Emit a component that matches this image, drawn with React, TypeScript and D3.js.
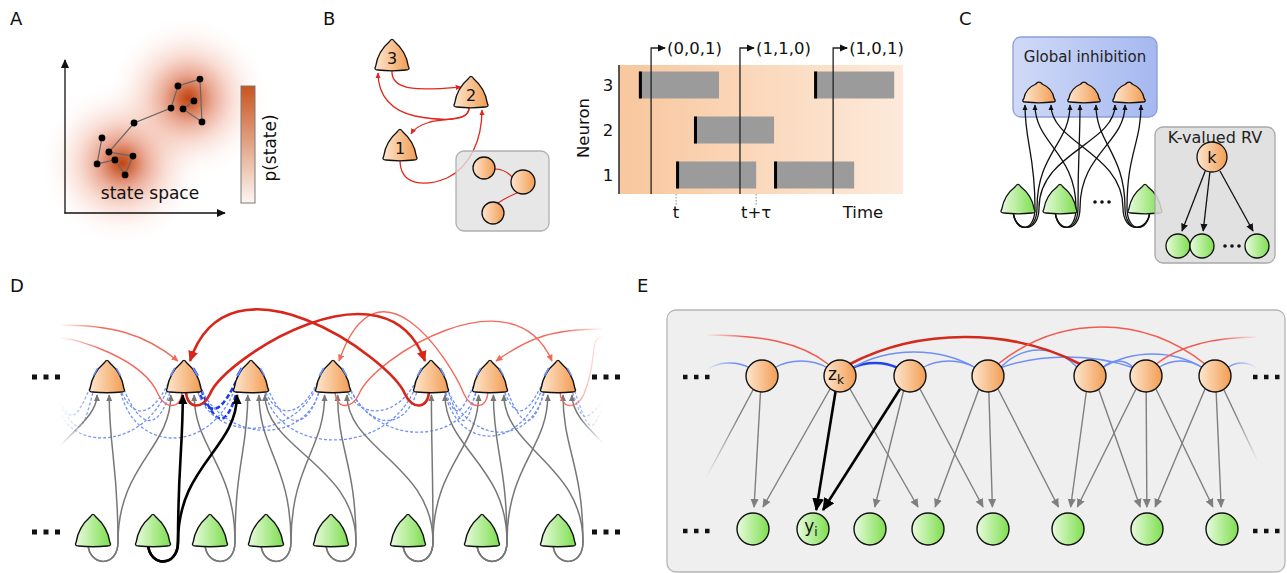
import React from "react";
import * as d3 from "d3";

const FONT = "'DejaVu Sans', Verdana, sans-serif";

// ---------- Panel A: sampling walk over a bimodal state space (axis units 0-100)
const walkX = [23.4, 20.3, 31.6, 38.0, 43.0, 27.8, 43.7, 67.1, 71.5, 85.4, 86.7, 74.7, 81.6];
const walkY = [49.7, 32.5, 35.1, 25.2, 37.7, 40.4, 59.6, 69.5, 84.1, 88.7, 60.3, 68.9, 74.2];
const modeX = [36, 78];
const modeY = [33, 76];

// ---------- Panel B: three neurons, refractory activity (time units 0-100)
const neuronNames = ["1", "2", "3"];
const spikeStarts1 = [20.1, 54.6];
const spikeStarts2 = [26.4];
const spikeStarts3 = [7.0, 68.7];
const tau = 28.2;
const readTimes = [11.3, 42.6, 75.4];
const markTime = 20.1;
const bNetX = [400, 471, 392];
const bNetTop = [127, 74, 37];
const bSubX = [484, 523, 493];
const bSubY = [168, 182, 213];
const bSubR = [11, 12, 11];

// ---------- Panel C: WTA circuit
const cTopX = [1039, 1084, 1129];
const cBotX = [1018, 1060, 1145];
const cRiserDx = [19, 18, -20];
const cArrowDx = [-14, -4, 12];
const cRVX = [1178, 1202, 1257];

// ---------- Panel D: network of spiking neurons
const dOrangeX = [107, 184, 251, 333, 431, 490, 558];
const dGreenX = [93, 153, 210, 266, 331, 408, 482, 558];
const dFeedSrc = [0, 0, 1, 1, 2, 2, 3, 3, 4, 4, 5, 5, 5, 6, 6, 6, 7, 7];
const dFeedDst = [0, 1, 1, 2, 1, 2, 2, 3, 2, 3, 3, 4, 5, 4, 5, 6, 5, 6];
const dBlueSrc = [-1, 0, 0, 1, 1, 2, 2, 3, 3, 4, 4, 5, 5, 6, 6, 7, 0, 2, 4, 3, 5, -1, 1, 6];
const dBlueDst = [0, -1, 1, 0, 2, 1, 3, 2, 4, 3, 5, 4, 6, 5, 7, 6, 2, 4, 6, 1, 3, 1, 3, 4];
const dBlueDip = [24, 34, 22, 32, 20, 30, 22, 32, 22, 32, 22, 32, 22, 32, 24, 34, 50, 52, 48, 42, 44, 46, 40, 44];
const dRedSrc = [-1, 1, 5, 3, 7, 6];
const dRedDst = [1, -1, 3, 6, 5, 7];
const dRedLevel = [325, 338, 322, 330, 329, 337];
const dStrongSrc = [1, 4];
const dStrongDst = [4, 1];
const dStrongTop = [324, 320];

// ---------- Panel E: equivalent graphical model
const eLatentX = [762, 840, 910, 988, 1090, 1146, 1215];
const eObsX = [753, 813, 870, 928, 993, 1068, 1147, 1222];
const eEdgeSrc = [0, 1, 1, 1, 2, 2, 2, 3, 3, 3, 4, 4, 5, 5, 5, 6, 6];
const eEdgeDst = [0, 0, 1, 3, 1, 2, 4, 3, 4, 5, 5, 6, 5, 6, 7, 6, 7];
const eBlueSrc = [-1, 0, 1, 2, 1, 3, 3, 4, 4, 5, 6];
const eBlueDst = [0, 1, 2, 3, 3, 4, 5, 5, 6, 6, 7];
const eBlueTop = [363, 361, 363, 361, 352, 350, 357, 361, 354, 361, 363];
const eRedSrc = [-1, 1, 3, 5];
const eRedDst = [1, 4, 6, 7];
const eRedTop = [335, 337, 327, 337];

const clamp = (v: number, lo: number, hi: number) => Math.max(lo, Math.min(hi, v));

// rounded triangle with gently convex sides
function tri(cx: number, top: number, w: number, h: number) {
  const pts = [
    [cx, top],
    [cx + w / 2, top + h],
    [cx - w / 2, top + h],
  ];
  const rr = [5.5, 4.5, 4.5];
  const bulge = [w * 0.07, 0.8, w * 0.07];
  const toward = (P: number[], Q: number[], d: number) => {
    const dx = Q[0] - P[0], dy = Q[1] - P[1], L = Math.hypot(dx, dy);
    return [P[0] + (dx * d) / L, P[1] + (dy * d) / L];
  };
  const p = d3.path();
  for (let i = 0; i < 3; i++) {
    const P = pts[i], Q = pts[(i + 1) % 3], N = pts[(i + 2) % 3];
    const s = toward(P, Q, rr[i]);
    const e = toward(Q, P, rr[(i + 1) % 3]);
    const dx = Q[0] - P[0], dy = Q[1] - P[1], L = Math.hypot(dx, dy);
    const nx = dy / L, ny = -dx / L;
    const mx = (s[0] + e[0]) / 2 + nx * bulge[i] * 2;
    const my = (s[1] + e[1]) / 2 + ny * bulge[i] * 2;
    if (i === 0) p.moveTo(s[0], s[1]);
    p.quadraticCurveTo(mx, my, e[0], e[1]);
    const s2 = toward(Q, N, rr[(i + 1) % 3]);
    p.quadraticCurveTo(Q[0], Q[1], s2[0], s2[1]);
  }
  p.closePath();
  return p.toString();
}

function feedPath(gx: number, gb: number, rx: number, tx: number, tb: number) {
  const s = rx > gx ? 1 : -1;
  const p = d3.path();
  p.moveTo(gx - s * 5, gb - 2);
  p.bezierCurveTo(gx - s * 4, gb + 21, rx, gb + 22, rx, gb - 4);
  const span = gb - tb;
  p.bezierCurveTo(rx, gb - 4 - span * 0.5, tx, tb + 3 + span * 0.35, tx, tb + 3);
  return p.toString();
}

const D_OFF_L = 60, D_OFF_R = 603;
const dX = (i: number) => (i < 0 ? D_OFF_L : i >= dOrangeX.length ? D_OFF_R : dOrangeX[i]);
const dIsOff = (i: number) => i < 0 || i >= dOrangeX.length;

function inhPath(si: number, ti: number, lvl: number) {
  const sx = dX(si), tx = dX(ti);
  const dir = tx > sx ? 1 : -1;
  const p = d3.path();
  if (dIsOff(si)) {
    p.moveTo(sx, lvl);
    p.bezierCurveTo(sx + dir * 50, lvl, tx - dir * 40, lvl + 8, tx - dir * 6, 361);
    return p.toString();
  }
  p.moveTo(sx + dir * 2, 390);
  p.bezierCurveTo(sx + dir * 2, 410, sx + dir * 19, 410, sx + dir * 26, 394);
  const c1x = sx + dir * 41, c1y = 358;
  if (dIsOff(ti)) {
    p.bezierCurveTo(c1x, c1y, tx - dir * 15, lvl, tx, lvl);
    return p.toString();
  }
  const y3 = 361;
  const c2y = (8 * lvl - 394 - 3 * c1y - y3) / 3;
  p.bezierCurveTo(c1x, c1y, tx - dir * 45, c2y, tx - dir * 6, y3);
  return p.toString();
}

function bluePath(si: number, ti: number, dip: number) {
  const sx = dX(si), tx = dX(ti);
  const dir = tx > sx ? 1 : -1;
  const x0 = dIsOff(si) ? sx : sx + dir * 13;
  const y0 = dIsOff(si) ? 392 + dip * 0.4 : 388;
  const x3 = dIsOff(ti) ? tx : tx - dir * 11;
  const y3 = dIsOff(ti) ? 392 + dip * 0.4 : 373;
  const p = d3.path();
  p.moveTo(x0, y0);
  p.bezierCurveTo(x0 + dir * 12, 392 + dip * 1.3, x3 - dir * 20, 392 + dip * 1.3, x3, y3);
  return p.toString();
}

function arcE(x0: number, y0: number, x1: number, y1: number, top: number) {
  const c = (8 * top - y0 - y1) / 6;
  const p = d3.path();
  p.moveTo(x0, y0);
  p.bezierCurveTo(x0 + (x1 - x0) * 0.3, c, x1 - (x1 - x0) * 0.3, c, x1, y1);
  return p.toString();
}

const Marker = ({ id, color, size }: { id: string; color: string; size: number }) => (
  <marker id={id} viewBox="0 0 10 10" refX={9} refY={5} markerWidth={size} markerHeight={size}
    markerUnits="userSpaceOnUse" orient="auto">
    <path d="M0,0.5 L10,5 L0,9.5 z" fill={color} />
  </marker>
);

const Dots = ({ x, y, s, gap }: { x: number; y: number; s: number; gap: number }) => (
  <g fill="#111">
    {[0, 1, 2].map((i) => (
      <rect key={i} x={x + i * gap} y={y - s / 2} width={s} height={s} />
    ))}
  </g>
);

export default function App() {
  // Panel A
  const ax = d3.scaleLinear().domain([0, 100]).range([65, 223]);
  const ay = d3.scaleLinear().domain([0, 100]).range([213, 62]);
  const walkPts: [number, number][] = walkX.map((x, i) => [ax(x), ay(walkY[i])]);
  const walk = d3.line()(walkPts) || "";

  // Panel B
  const tScale = d3.scaleLinear().domain([0, 100]).range([619, 903]);
  const rowScale = d3.scalePoint<string>().domain(["3", "2", "1"]).range([85, 175]);
  const starts = [spikeStarts1, spikeStarts2, spikeStarts3];
  const readLabels = readTimes.map(
    (t) => "(" + starts.map((s) => (s.some((a) => t >= a && t < a + tau) ? 1 : 0)).join(",") + ")"
  );
  const [x1, x2, x3] = bNetX;
  const [t1, t2, t3] = bNetTop;
  const th = 33;
  const bEdges: string[] = [];
  {
    let p = d3.path();
    p.moveTo(x3, t3 + th);
    p.bezierCurveTo(x3 - 2, t3 + th + 23, x3 + 33, t3 + th + 20, x2 - 10, t2 + 13);
    bEdges.push(p.toString());
    p = d3.path();
    p.moveTo(x2 - 2, t2 + th);
    p.bezierCurveTo(x2 - 1, t2 + th + 15, x2 - 30, t2 + th + 14, x2 - 56, t2 + th + 9);
    p.bezierCurveTo(x2 - 79, t2 + th + 4, x3 - 14, t3 + th + 26, x3 - 14, t3 + th + 3);
    bEdges.push(p.toString());
    p = d3.path();
    p.moveTo(x2 - 2, t2 + th);
    p.bezierCurveTo(x2 - 1, t2 + th + 15, x2 - 26, t2 + th + 11, x2 - 41, t2 + th + 15);
    p.bezierCurveTo(x2 - 51, t2 + th + 18, x1 + 14, t1 + 2, x1 + 11, t1 + 7);
    bEdges.push(p.toString());
  }
  const bEdge12 = (() => {
    const p = d3.path();
    p.moveTo(x1, t1 + th);
    p.bezierCurveTo(x1, t1 + th + 26, x1 + 25, t1 + th + 27, x1 + 47, t1 + th + 18);
    p.bezierCurveTo(x1 + 70, t1 + th + 7, x2 + 11, t2 + th + 33, x2 + 11, t2 + th + 3);
    return p.toString();
  })();

  // Panel D
  const D_BASE = 392, D_TOP = 358, D_GTOP = 512, D_GBASE = 546, TW = 38, TH = 34;
  const feeds = dFeedSrc.map((g, k) => {
    const o = dFeedDst[k];
    const gx = dGreenX[g], ox = dOrangeX[o];
    const rx = gx + 25;
    const tx = ox + clamp((rx - ox) * 0.2, -14, 14);
    return { d: feedPath(gx, D_GBASE, rx, tx, D_BASE), bold: g === 1 };
  });
  const blues = dBlueSrc.map((s, k) => {
    const t = dBlueDst[k];
    const thick = (s === 1 && t === 2) || (s === 2 && t === 1);
    const off = dIsOff(s) ? (s < 0 ? "L" : "R") : dIsOff(t) ? (t < 0 ? "L" : "R") : "";
    const dir = dX(t) > dX(s) ? 1 : -1;
    return { d: bluePath(s, t, dBlueDip[k]), thick, off, t, dir };
  });
  const terminals: { x: number; y: number; dx: number; dy: number; thick: boolean }[] = [];
  blues.forEach((b) => {
    if (dIsOff(b.t)) return;
    const tx = dX(b.t);
    const side = -b.dir;
    const ux = (side * 19) / 38.95, uy = 34 / 38.95;
    const cx = tx + side * 11.5, cy = 372;
    terminals.push({ x: cx, y: cy, dx: ux * 4.5, dy: uy * 4.5, thick: b.thick });
  });

  // Panel E
  const E_OY = 376, E_GY = 529, ER = 16;
  const eOffL = 706, eOffR = 1258;
  const eX = (i: number) => (i < 0 ? eOffL : i >= eLatentX.length ? eOffR : eLatentX[i]);

  return (
    <svg width={1287} height={573} style={{ position: "absolute", left: 0, top: 0, background: "#fff" }}
      fontFamily={FONT}>
      <defs>
        <Marker id="mA" color="#111" size={9} />
        <Marker id="mRedB" color="#e3261b" size={6} />
        <Marker id="mBlk" color="#111" size={8} />
        <Marker id="mBlkC" color="#111" size={6} />
        <Marker id="mBlkK" color="#111" size={8} />
        <Marker id="mGrayD" color="#777" size={7} />
        <Marker id="mBlkD" color="#000" size={10} />
        <Marker id="mRedD" color="#f26a5c" size={7} />
        <Marker id="mRedDk" color="#d8261a" size={11} />
        <Marker id="mGrayE" color="#7f7f7f" size={9} />
        <Marker id="mBlkE" color="#000" size={13} />
        <radialGradient id="gBlob" cx="0.5" cy="0.5" r="0.5">
          <stop offset="0" stopColor="rgb(192,68,20)" stopOpacity={1} />
          <stop offset="0.1" stopColor="rgb(200,80,32)" stopOpacity={0.9} />
          <stop offset="0.3" stopColor="rgb(218,105,70)" stopOpacity={0.58} />
          <stop offset="0.55" stopColor="rgb(234,145,115)" stopOpacity={0.3} />
          <stop offset="0.8" stopColor="rgb(244,185,165)" stopOpacity={0.1} />
          <stop offset="1" stopColor="rgb(250,220,210)" stopOpacity={0} />
        </radialGradient>
        <linearGradient id="gBar" x1="0" y1="0" x2="0" y2="1">
          <stop offset="0" stopColor="#c9541e" />
          <stop offset="1" stopColor="#fdf6f2" />
        </linearGradient>
        <linearGradient id="gO" x1="0" y1="0" x2="1" y2="0">
          <stop offset="0" stopColor="#fde6cf" />
          <stop offset="1" stopColor="#f39d52" />
        </linearGradient>
        <linearGradient id="gG" x1="0" y1="0" x2="1" y2="0">
          <stop offset="0" stopColor="#e8fbde" />
          <stop offset="1" stopColor="#7ede4f" />
        </linearGradient>
        <linearGradient id="gTL" x1="0" y1="0" x2="1" y2="0">
          <stop offset="0" stopColor="#f8c79d" />
          <stop offset="1" stopColor="#fdeadb" />
        </linearGradient>
        <linearGradient id="gBlue" x1="0" y1="0" x2="1" y2="0">
          <stop offset="0" stopColor="#d0daf7" />
          <stop offset="1" stopColor="#a5b8f0" />
        </linearGradient>
        {[
          ["fRedL", "#f26a5c", D_OFF_L, D_OFF_L + 40],
          ["fRedR", "#f26a5c", D_OFF_R, D_OFF_R - 40],
          ["fBlueL", "#7191f3", D_OFF_L, D_OFF_L + 35],
          ["fBlueR", "#7191f3", D_OFF_R, D_OFF_R - 35],
          ["fRedEL", "#f25a4f", eOffL, eOffL + 40],
          ["fRedER", "#f25a4f", eOffR, eOffR - 40],
          ["fBlueEL", "#6f8ff6", eOffL, eOffL + 30],
          ["fBlueER", "#6f8ff6", eOffR, eOffR - 30],
        ].map(([id, c, a, b]) => (
          <linearGradient key={id as string} id={id as string} gradientUnits="userSpaceOnUse"
            x1={a as number} y1={0} x2={b as number} y2={0}>
            <stop offset="0" stopColor={c as string} stopOpacity={0} />
            <stop offset="1" stopColor={c as string} stopOpacity={1} />
          </linearGradient>
        ))}
        <linearGradient id="fGrayDL" gradientUnits="userSpaceOnUse" x1={60} y1={446} x2={88} y2={418}>
          <stop offset="0" stopColor="#777" stopOpacity={0} />
          <stop offset="1" stopColor="#777" stopOpacity={1} />
        </linearGradient>
        <linearGradient id="fGrayDR" gradientUnits="userSpaceOnUse" x1={603} y1={443} x2={580} y2={418}>
          <stop offset="0" stopColor="#777" stopOpacity={0} />
          <stop offset="1" stopColor="#777" stopOpacity={1} />
        </linearGradient>
        <linearGradient id="fGrayEL" gradientUnits="userSpaceOnUse" x1={706} y1={478} x2={740} y2={420}>
          <stop offset="0" stopColor="#7f7f7f" stopOpacity={0} />
          <stop offset="1" stopColor="#7f7f7f" stopOpacity={1} />
        </linearGradient>
        <linearGradient id="fGrayER" gradientUnits="userSpaceOnUse" x1={1258} y1={462} x2={1235} y2={415}>
          <stop offset="0" stopColor="#7f7f7f" stopOpacity={0} />
          <stop offset="1" stopColor="#7f7f7f" stopOpacity={1} />
        </linearGradient>
      </defs>

      {/* ================= Panel letters ================= */}
      <g fontSize={18} fill="#111">
        <text x={10} y={25}>A</text>
        <text x={323} y={25}>B</text>
        <text x={959} y={25}>C</text>
        <text x={10} y={292}>D</text>
        <text x={637} y={292}>E</text>
      </g>

      {/* ================= Panel A ================= */}
      <g>
        {modeX.map((m, i) => (
          <circle key={i} cx={ax(m)} cy={ay(modeY[i])} r={80} fill="url(#gBlob)" />
        ))}
        <line x1={65} y1={213.5} x2={65} y2={60} stroke="#111" strokeWidth={1.3} markerEnd="url(#mA)" />
        <line x1={64.4} y1={213} x2={225} y2={213} stroke="#111" strokeWidth={1.3} markerEnd="url(#mA)" />
        <path d={walk} fill="none" stroke="#666" strokeWidth={1.2} />
        {walkPts.map((p, i) => (
          <circle key={i} cx={p[0]} cy={p[1]} r={3.4} fill="#000" />
        ))}
        <text x={150} y={199} fontSize={17} textAnchor="middle" fill="#111">state space</text>
        <rect x={241} y={86} width={14} height={117} fill="url(#gBar)" stroke="#7a7a7a" strokeWidth={1} />
        <text transform="translate(276,148) rotate(-90)" fontSize={17} textAnchor="middle" fill="#111">p(state)</text>
      </g>

      {/* ================= Panel B: network ================= */}
      <g>
        {bEdges.map((d, i) => (
          <path key={i} d={d} fill="none" stroke="#e3261b" strokeWidth={1.3} markerEnd="url(#mRedB)" />
        ))}
        <path d={bEdge12} fill="none" stroke="#e3261b" strokeWidth={1.3} markerEnd="url(#mRedB)" />
        <rect x={456} y={151} width={93} height={80} rx={8} fill="#e2e2e2" fillOpacity={0.82} stroke="#b0b0b0" strokeWidth={1.3} />
        <path d={`M${bSubX[0] + 11},${bSubY[0] + 1} Q${bSubX[0] + 21},${bSubY[0] + 1} ${bSubX[1] - 11},${bSubY[1] - 5}`}
          fill="none" stroke="#e3261b" strokeWidth={1.2} />
        <path d={`M${bSubX[1] - 6},${bSubY[1] + 11} Q${bSubX[1] - 18},${bSubY[1] + 16} ${bSubX[2] + 5},${bSubY[2] - 10}`}
          fill="none" stroke="#e3261b" strokeWidth={1.2} />
        {bSubX.map((x, i) => (
          <circle key={i} cx={x} cy={bSubY[i]} r={bSubR[i]} fill="url(#gO)" stroke="#111" strokeWidth={1.3} />
        ))}
        {bNetX.map((x, i) => (
          <g key={i}>
            <path d={tri(x, bNetTop[i], 37, th)} fill="url(#gO)" stroke="#111" strokeWidth={1.3} />
            <text x={x} y={bNetTop[i] + 27} fontSize={16} textAnchor="middle" fill="#111">{neuronNames[i]}</text>
          </g>
        ))}
      </g>

      {/* ================= Panel B: activity ================= */}
      <g>
        <rect x={619} y={65} width={284} height={129} fill="url(#gTL)" />
        {starts.map((s, n) =>
          s.map((a, k) => (
            <g key={n + "-" + k}>
              <rect x={tScale(a)} y={(rowScale(neuronNames[n]) || 0) - 13.5} width={tScale(a + tau) - tScale(a)}
                height={27} fill="#9b9b9b" />
              <rect x={tScale(a)} y={(rowScale(neuronNames[n]) || 0) - 13.5} width={3} height={27} fill="#000" />
            </g>
          ))
        )}
        <line x1={619} y1={65} x2={619} y2={194} stroke="#333" strokeWidth={1.6} />
        {neuronNames.map((n) => (
          <text key={n} x={608} y={(rowScale(n) || 0) + 6} fontSize={16.5} textAnchor="middle" fill="#111">{n}</text>
        ))}
        <text transform="translate(589,128) rotate(-90)" fontSize={16.5} textAnchor="middle" fill="#111">Neuron</text>
        {readTimes.map((t, i) => (
          <g key={i}>
            <path d={`M${tScale(t)},194 L${tScale(t)},48 L${tScale(t) + 14},48`} fill="none" stroke="#222"
              strokeWidth={1.3} markerEnd="url(#mBlk)" />
            <text x={tScale(t) + 16} y={54} fontSize={16.5} fill="#111">{readLabels[i]}</text>
          </g>
        ))}
        {[markTime, markTime + tau].map((t, i) => (
          <line key={i} x1={tScale(t)} y1={194} x2={tScale(t)} y2={205} stroke="#888" strokeWidth={1}
            strokeDasharray="1.5,1.5" />
        ))}
        <text x={tScale(markTime)} y={218} fontSize={16.5} textAnchor="middle" fill="#111">t</text>
        <text x={tScale(markTime + tau)} y={218} fontSize={16.5} textAnchor="middle" fill="#111">t+τ</text>
        <text x={863} y={218} fontSize={16.5} textAnchor="middle" fill="#111">Time</text>
      </g>

      {/* ================= Panel C ================= */}
      <g>
        <rect x={1013} y={37} width={144} height={80} rx={8} fill="url(#gBlue)" stroke="#8a9fd6" strokeWidth={1.3} />
        <text x={1085} y={62} fontSize={15} textAnchor="middle" fill="#222">Global inhibition</text>
        {cBotX.map((gx, j) =>
          cTopX.map((ox, i) => (
            <path key={j + "-" + i} d={feedPath(gx, 212, gx + cRiserDx[j] + (i - 1) * 2, ox + cArrowDx[j], 102)}
              fill="none" stroke="#111" strokeWidth={1.3} markerEnd="url(#mBlkC)" />
          ))
        )}
        {cTopX.map((x, i) => (
          <path key={i} d={tri(x, 80, 36, 22)} fill="url(#gO)" stroke="#111" strokeWidth={1.3} />
        ))}
        {cBotX.map((x, i) => (
          <path key={i} d={tri(x, 182, 37, 31)} fill="url(#gG)" stroke="#111" strokeWidth={1.3} />
        ))}
        <g fill="#111">
          {[0, 1, 2].map((i) => (
            <circle key={i} cx={1095 + i * 7} cy={202} r={1.8} />
          ))}
        </g>
        <rect x={1155} y={127} width={120} height={136} rx={8} fill="#dcdcdc" fillOpacity={0.85} stroke="#a8a8a8" strokeWidth={1.3} />
        <text x={1215} y={143} fontSize={16} textAnchor="middle" fill="#222">K-valued RV</text>
        {cRVX.map((x, i) => {
          const sx = 1212 + clamp((x - 1212) * 0.2, -8, 8);
          const ex = x + clamp((1212 - x) * 0.12, -4, 4);
          return (
            <line key={i} x1={sx} y1={171} x2={ex} y2={231} stroke="#111" strokeWidth={1.3} markerEnd="url(#mBlkK)" />
          );
        })}
        <circle cx={1212} cy={157} r={15} fill="url(#gO)" stroke="#111" strokeWidth={1.3} />
        <text x={1212} y={163} fontSize={16} textAnchor="middle" fill="#111">k</text>
        {cRVX.map((x, i) => (
          <circle key={i} cx={x} cy={246} r={12} fill="url(#gG)" stroke="#111" strokeWidth={1.3} />
        ))}
        <g fill="#111">
          {[0, 1, 2].map((i) => (
            <circle key={i} cx={1225 + i * 7} cy={246} r={1.8} />
          ))}
        </g>
      </g>

      {/* ================= Panel D ================= */}
      <g>
        {blues.map((b, i) => (
          <path key={i} d={b.d} fill="none"
            stroke={b.off ? `url(#fBlue${b.off})` : b.thick ? "#1f3fe6" : "#7191f3"}
            strokeWidth={b.thick ? 2.6 : 1.3} strokeDasharray={b.thick ? "5,2.5" : "3,2"} />
        ))}
        {feeds.filter((f) => !f.bold).map((f, i) => (
          <path key={i} d={f.d} fill="none" stroke="#777" strokeWidth={1.5} markerEnd="url(#mGrayD)" />
        ))}
        <path d="M60,446 C80,425 97,412 97,395" fill="none" stroke="url(#fGrayDL)" strokeWidth={1.5} markerEnd="url(#mGrayD)" />
        <path d="M603,443 C585,425 572,412 572,395" fill="none" stroke="url(#fGrayDR)" strokeWidth={1.5} markerEnd="url(#mGrayD)" />
        {dRedSrc.map((s, k) => {
          const t = dRedDst[k];
          const off = dIsOff(s) ? (s < 0 ? "L" : "R") : dIsOff(t) ? (t < 0 ? "L" : "R") : "";
          return (
            <path key={k} d={inhPath(s, t, dRedLevel[k])} fill="none" stroke={off ? `url(#fRed${off})` : "#f26a5c"}
              strokeWidth={1.4} markerEnd={dIsOff(t) ? undefined : "url(#mRedD)"} />
          );
        })}
        {dStrongSrc.map((s, k) => (
          <path key={k} d={inhPath(s, dStrongDst[k], dStrongTop[k])} fill="none" stroke="#d8261a" strokeWidth={2.6}
            markerEnd="url(#mRedDk)" />
        ))}
        {feeds.filter((f) => f.bold).map((f, i) => (
          <path key={i} d={f.d} fill="none" stroke="#000" strokeWidth={2.6} markerEnd="url(#mBlkD)" />
        ))}
        {dOrangeX.map((x, i) => (
          <path key={i} d={tri(x, D_TOP, TW, TH)} fill="url(#gO)" stroke="#111" strokeWidth={1.4} />
        ))}
        {dGreenX.map((x, i) => (
          <path key={i} d={tri(x, D_GTOP, TW, TH)} fill="url(#gG)" stroke="#111" strokeWidth={1.4} />
        ))}
        {terminals.map((t, i) => (
          <line key={i} x1={t.x - t.dx} y1={t.y - t.dy} x2={t.x + t.dx} y2={t.y + t.dy}
            stroke={t.thick ? "#1f3fe6" : "#7191f3"} strokeWidth={t.thick ? 2.4 : 1.5} />
        ))}
        <Dots x={32} y={377} s={5} gap={11.5} />
        <Dots x={32} y={532} s={5} gap={11.5} />
        <Dots x={592} y={377} s={5} gap={11.5} />
        <Dots x={592} y={532} s={5} gap={11.5} />
      </g>

      {/* ================= Panel E ================= */}
      <g>
        <rect x={667} y={310} width={618} height={262} rx={9} fill="#efefef" stroke="#b5b5b5" strokeWidth={1.3} />
        {eBlueSrc.map((s, k) => {
          const t = eBlueDst[k];
          const x0 = s < 0 ? eOffL : eX(s) + 12;
          const y0 = s < 0 ? 370 : 368;
          const xe = t >= eLatentX.length ? eOffR : eX(t) - 12;
          const ye = t >= eLatentX.length ? 369 : 368;
          const thick = s === 1 && t === 2;
          const stroke = s < 0 ? "url(#fBlueEL)" : t >= eLatentX.length ? "url(#fBlueER)" : thick ? "#2244e8" : "#6f8ff6";
          return <path key={k} d={arcE(x0, y0, xe, ye, eBlueTop[k])} fill="none" stroke={stroke} strokeWidth={thick ? 2.6 : 1.4} />;
        })}
        {eRedSrc.map((s, k) => {
          const t = eRedDst[k];
          const thick = s === 1 && t === 4;
          let d: string;
          let stroke = thick ? "#d42a1c" : "#f25a4f";
          if (s < 0) {
            const p = d3.path();
            p.moveTo(eOffL, eRedTop[k]);
            p.bezierCurveTo(eOffL + 55, eRedTop[k], eX(t) - 40, eRedTop[k] + 7, eX(t) - 12, 364);
            d = p.toString();
            stroke = "url(#fRedEL)";
          } else if (t >= eLatentX.length) {
            const p = d3.path();
            p.moveTo(eX(s) + 10, 364);
            p.bezierCurveTo(eX(s) + 35, 345, eOffR - 40, eRedTop[k], eOffR, eRedTop[k]);
            d = p.toString();
            stroke = "url(#fRedER)";
          } else {
            d = arcE(eX(s) + 10, 364, eX(t) - 10, 364, eRedTop[k]);
          }
          return <path key={k} d={d} fill="none" stroke={stroke} strokeWidth={thick ? 2.6 : 1.4} />;
        })}
        {eEdgeSrc.map((s, k) => {
          const t = eEdgeDst[k];
          const ox = eLatentX[s], gx = eObsX[t];
          const bold = (s === 1 || s === 2) && t === 1;
          const sx = ox + clamp((gx - ox) * 0.15, -10, 10);
          const ex = gx + clamp((ox - gx) * 0.12, -10, 10);
          return (
            <line key={k} x1={sx} y1={389} x2={ex} y2={bold ? 510 : 507} stroke={bold ? "#000" : "#7f7f7f"}
              strokeWidth={bold ? 2.6 : 1.4} markerEnd={bold ? "url(#mBlkE)" : "url(#mGrayE)"} />
          );
        })}
        <line x1={753} y1={390} x2={706} y2={478} stroke="url(#fGrayEL)" strokeWidth={1.4} />
        <line x1={1224} y1={390} x2={1258} y2={462} stroke="url(#fGrayER)" strokeWidth={1.4} />
        {eLatentX.map((x, i) => (
          <circle key={i} cx={x} cy={E_OY} r={ER} fill="url(#gO)" stroke="#111" strokeWidth={1.4} />
        ))}
        {eObsX.map((x, i) => (
          <circle key={i} cx={x} cy={E_GY} r={ER} fill="url(#gG)" stroke="#111" strokeWidth={1.4} />
        ))}
        <text x={eLatentX[1] - 4} y={E_OY + 4} fontSize={17} textAnchor="middle" fill="#111">
          z<tspan fontSize={12} dy={4}>k</tspan>
        </text>
        <text x={eObsX[1] - 2} y={E_GY + 3} fontSize={17} textAnchor="middle" fill="#111">
          y<tspan fontSize={12} dy={4}>i</tspan>
        </text>
        <Dots x={683} y={377} s={4.5} gap={11} />
        <Dots x={683} y={531} s={4.5} gap={11} />
        <Dots x={1253} y={377} s={4.5} gap={11} />
        <Dots x={1253} y={531} s={4.5} gap={11} />
      </g>
    </svg>
  );
}
